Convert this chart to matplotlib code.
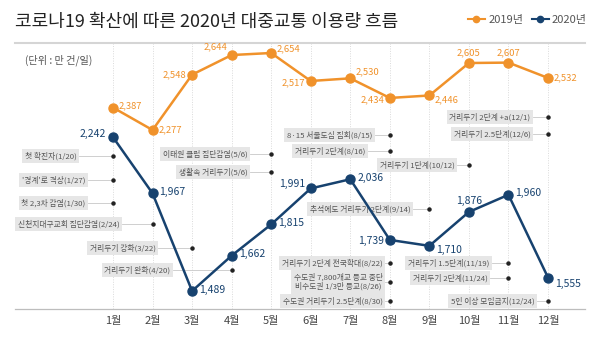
import matplotlib
matplotlib.use("Agg")
import matplotlib.pyplot as plt
from matplotlib.lines import Line2D

plt.rcParams['font.family'] = ['Noto Sans CJK KR', 'DejaVu Sans']

# ---- data ----
months = ['1월', '2월', '3월', '4월', '5월', '6월', '7월', '8월', '9월', '10월', '11월', '12월']
v2019 = [2387, 2277, 2548, 2644, 2654, 2517, 2530, 2434, 2446, 2605, 2607, 2532]
v2020 = [2242, 1967, 1489, 1662, 1815, 1991, 2036, 1739, 1710, 1876, 1960, 1555]
title = '코로나19 확산에 따른 2020년 대중교통 이용량 흐름'
unit = '(단위 : 만 건/일)'

# events: label, month of dot
event_labels = ['첫 확진자(1/20)', "'경계'로 격상(1/27)", '첫 2,3차 감염(1/30)', '신천지대구교회 집단감염(2/24)',
                '거리두기 강화(3/22)', '거리두기 완화(4/20)', '이태원 클럽 집단감염(5/6)', '생활속 거리두기(5/6)',
                '8·15 서울도심 집회(8/15)', '거리두기 2단계(8/16)', '거리두기 1단계(10/12)', '추석에도 거리두기 2단계(9/14)',
                '거리두기 2단계 전국확대(8/22)', '수도권 7,800개교 등교 중단\n비수도권 1/3만 등교(8/26)', '수도권 거리두기 2.5단계(8/30)',
                '거리두기 1.5단계(11/19)', '거리두기 2단계(11/24)', '5인 이상 모임금지(12/24)',
                '거리두기 2단계 +a(12/1)', '거리두기 2.5단계(12/6)']
event_months = [1, 1, 1, 2, 3, 4, 5, 5, 8, 8, 10, 9, 8, 8, 8, 11, 11, 12, 12, 12]

# ---- layout (pixels) ----
event_box_right = [79, 88, 88, 122, 158, 173, 250, 250, 375, 368, 457, 413, 385, 385, 385, 492, 490, 537, 533, 533]
event_py = [156, 180, 203, 224, 248, 270, 154, 172, 135, 151, 165, 209, 263, 282, 301, 263, 278, 301, 117, 134]

ORANGE = '#F0922B'
NAVY = '#17426F'

W, H = 600, 344
fig = plt.figure(figsize=(6, 3.44), dpi=100)
ax_l, ax_r, ax_t, ax_b = 15, 585, 43, 309
ax = fig.add_axes([ax_l / W, 1 - ax_b / H, (ax_r - ax_l) / W, (ax_b - ax_t) / H])

m1_px, m12_px = 113, 548
step = (m12_px - m1_px) / 11
x0 = 1 - (m1_px - ax_l) / step
x1 = 12 + (ax_r - m12_px) / step
ax.set_xlim(x0, x1)
# y mapping
slope = 0.2043  # px per unit
y_top = 2654 + (53 - ax_t) / slope
y_bot = 1489 - (ax_b - 291) / slope
ax.set_ylim(y_bot, y_top)


def px2x(px):
    return x0 + (px - ax_l) / (ax_r - ax_l) * (x1 - x0)


def py2y(py):
    return y_top - (py - ax_t) / (ax_b - ax_t) * (y_top - y_bot)


xs = list(range(1, 13))
for x in xs:
    ax.axvline(x, color='#dadada', lw=0.7, ls=(0, (1, 1.5)), zorder=0)

ax.plot(xs, v2019, color=ORANGE, lw=1.8, marker='o', ms=6.5, zorder=3)
ax.plot(xs, v2020, color=NAVY, lw=1.8, marker='o', ms=6.5, zorder=3)

# data labels offsets (points)
off19 = [(4, 1, 'left'), (4, 0, 'left'), (-4, 0, 'right'), (-3, 6, 'right'), (4, 3, 'left'), (-4, -1, 'right'),
         (4, 5, 'left'), (-4, -1, 'right'), (4, -3, 'left'), (0, 7, 'center'), (0, 7, 'center'), (4, 0, 'left')]
off20 = [(-5, 2, 'right'), (5, 1, 'left'), (5, 1, 'left'), (5, 1, 'left'), (5, 1, 'left'), (-4, 3, 'right'),
         (5, 1, 'left'), (-4, -1, 'right'), (5, -3, 'left'), (0, 8, 'center'), (5, 1, 'left'), (5, -5, 'left')]
for x, v, (dx, dy, ha) in zip(xs, v2019, off19):
    ax.annotate(f'{v:,}', (x, v), xytext=(dx, dy), textcoords='offset points', ha=ha, va='center',
                fontsize=6.8, color=ORANGE, zorder=5)
for x, v, (dx, dy, ha) in zip(xs, v2020, off20):
    ax.annotate(f'{v:,}', (x, v), xytext=(dx, dy), textcoords='offset points', ha=ha, va='center',
                fontsize=7.5, color=NAVY, zorder=5)

# events
for lab, m, br, py in zip(event_labels, event_months, event_box_right, event_py):
    y = py2y(py)
    xr = px2x(br)
    ax.plot([xr, m], [y, y], color='#c8c8c8', lw=0.6, zorder=1)
    ax.plot([m], [y], 'o', color='#222222', ms=2.2, zorder=2)
    ax.text(px2x(br - 2.5), y, lab, ha='right', va='center', fontsize=5.6, color='#555555',
            multialignment='center', linespacing=1.15,
            bbox=dict(boxstyle='square,pad=0.35', fc='#e6e6e6', ec='none'), zorder=2)

ax.set_xticks(xs)
ax.set_xticklabels(months)
ax.tick_params(axis='x', length=0, pad=5, labelsize=8, labelcolor='#444444')
ax.set_yticks([])
for s in ['left', 'right']:
    ax.spines[s].set_visible(False)
ax.spines['top'].set_color('#d5d5d5')
ax.spines['top'].set_linewidth(1.5)
ax.spines['bottom'].set_color('#bdbdbd')
ax.spines['bottom'].set_linewidth(0.9)

fig.text(15 / W, 1 - 22 / H, title, fontsize=13, color='#222222', ha='left', va='center')
fig.text(25 / W, 1 - 60 / H, unit, fontsize=7.3, color='#555555', ha='left', va='center')

handles = [Line2D([], [], color=ORANGE, marker='o', ms=4.5, lw=1.5),
           Line2D([], [], color=NAVY, marker='o', ms=4.5, lw=1.5)]
fig.legend(handles, ['2019년', '2020년'], loc='upper right', bbox_to_anchor=(0.995, 0.985), ncol=2,
           frameon=False, fontsize=8, handlelength=1.5, columnspacing=0.8, handletextpad=0.3,
           labelcolor='#555555')

fig.savefig('out.png', dpi=100)
